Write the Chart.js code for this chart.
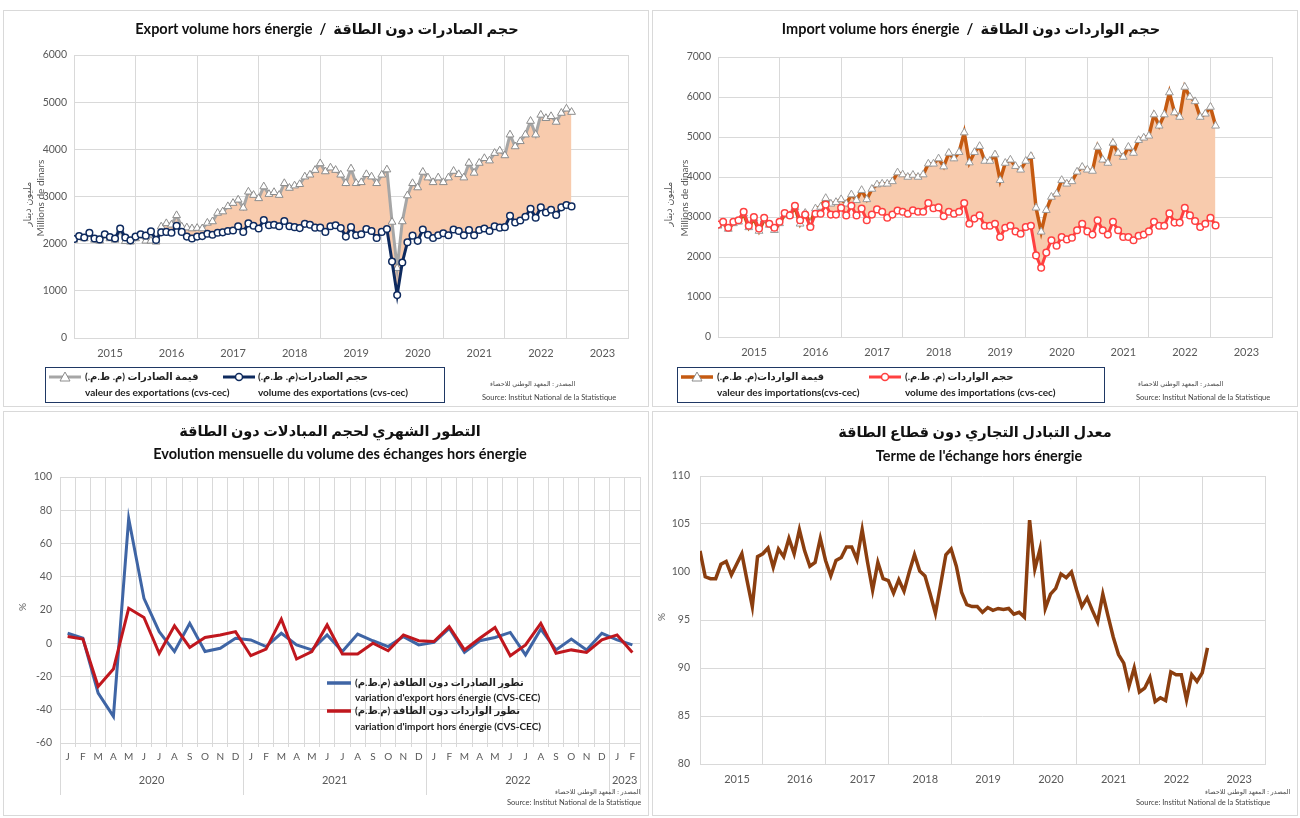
<!DOCTYPE html>
<html><head><meta charset="utf-8">
<script src="https://cdn.jsdelivr.net/npm/chart.js@4.4.1/dist/chart.umd.min.js"></script>
<style>
html,body{margin:0;padding:0;background:#fff;}
body{width:1300px;height:818px;position:relative;overflow:hidden;font-family:Lato,"DejaVu Sans",sans-serif;}
.panel{position:absolute;border:1px solid #d9d9d9;box-sizing:border-box;background:#fff;}
canvas{position:absolute;}
.t{position:absolute;white-space:nowrap;line-height:1;}
.title{font-weight:bold;font-size:14.5px;color:#111;transform:translateX(-50%);}
.ax{font-size:10px;color:#595959;transform-origin:center center;}
.lg{font-size:10px;font-weight:bold;color:#222;}
.src{font-size:7.5px;color:#444;}
.srca{font-size:6.5px;color:#444;}
.box{position:absolute;border:1px solid #1f3864;box-sizing:border-box;}
svg{position:absolute;}
</style></head><body>

<div class="panel" style="left:3px;top:10px;width:646px;height:397px"></div>
<div class="panel" style="left:652px;top:10px;width:646px;height:397px"></div>
<div class="panel" style="left:3px;top:411px;width:646px;height:405px"></div>
<div class="panel" style="left:652px;top:411px;width:646px;height:405px"></div>

<canvas id="c1" width="646" height="397" style="left:3px;top:10px"></canvas>
<canvas id="c2" width="646" height="397" style="left:652px;top:10px"></canvas>
<canvas id="c3" width="646" height="405" style="left:3px;top:411px"></canvas>
<canvas id="c4" width="646" height="405" style="left:652px;top:411px"></canvas>

<!-- Titles -->
<div class="t title" style="left:327px;top:22px">Export volume hors énergie&nbsp; / &nbsp;حجم الصادرات دون الطاقة</div>
<div class="t title" style="left:971px;top:22px">Import volume hors énergie&nbsp; / &nbsp;حجم الواردات دون الطاقة</div>
<div class="t title" style="left:330px;top:424px" dir="rtl">التطور الشهري لحجم المبادلات دون الطاقة</div>
<div class="t title" style="left:340px;top:447px">Evolution mensuelle du volume des échanges hors énergie</div>
<div class="t title" style="left:975px;top:425px" dir="rtl">معدل التبادل التجاري دون قطاع الطاقة</div>
<div class="t title" style="left:979px;top:449px">Terme de l'échange hors énergie</div>

<!-- Axis titles -->
<div class="t ax" style="left:40px;top:198px;transform:translate(-50%,-50%) rotate(-90deg)">Millions de dinars</div>
<div class="t ax" style="left:27px;top:204px;transform:translate(-50%,-50%) rotate(-90deg)" dir="rtl">مليون دينار</div>
<div class="t ax" style="left:684px;top:198px;transform:translate(-50%,-50%) rotate(-90deg)">Millions de dinars</div>
<div class="t ax" style="left:668px;top:204px;transform:translate(-50%,-50%) rotate(-90deg)" dir="rtl">مليون دينار</div>
<div class="t ax" style="left:22px;top:607px;transform:translate(-50%,-50%) rotate(-90deg)">%</div>
<div class="t ax" style="left:661px;top:617px;transform:translate(-50%,-50%) rotate(-90deg)">%</div>

<!-- Legend top-left -->
<div class="box" style="left:45px;top:367px;width:400px;height:36px"></div>
<svg style="left:48px;top:371px" width="34" height="12"><line x1="1" y1="6" x2="33" y2="6" stroke="#a6a6a6" stroke-width="3"/><polygon points="17,1 22,10 12,10" fill="#fff" stroke="#8c8c8c" stroke-width="1"/></svg>
<div class="t lg" style="left:85px;top:371px" dir="rtl">قيمة الصادرات (م. ط.م.)</div>
<div class="t lg" style="left:85px;top:387px">valeur des exportations (cvs-cec)</div>
<svg style="left:222px;top:371px" width="34" height="12"><line x1="1" y1="6" x2="33" y2="6" stroke="#0e2a5e" stroke-width="3"/><circle cx="17" cy="6" r="3.5" fill="#fff" stroke="#0e2a5e" stroke-width="1.5"/></svg>
<div class="t lg" style="left:258px;top:371px" dir="rtl">حجم الصادرات(م. ط.م.)</div>
<div class="t lg" style="left:258px;top:387px">volume des exportations (cvs-cec)</div>
<div class="t srca" style="left:490px;top:381px" dir="rtl">المصدر : المعهد الوطني للاحصاء</div>
<div class="t src" style="left:482px;top:394px">Source: Institut National de la Statistique</div>

<!-- Legend top-right -->
<div class="box" style="left:677px;top:367px;width:428px;height:36px"></div>
<svg style="left:680px;top:371px" width="34" height="12"><line x1="1" y1="6" x2="33" y2="6" stroke="#c55a11" stroke-width="3.5"/><polygon points="17,1 22,10 12,10" fill="#fff" stroke="#8c8c8c" stroke-width="1"/></svg>
<div class="t lg" style="left:717px;top:371px" dir="rtl">قيمة  الواردات(م. ط.م.)</div>
<div class="t lg" style="left:717px;top:387px">valeur des importations(cvs-cec)</div>
<svg style="left:868px;top:371px" width="34" height="12"><line x1="1" y1="6" x2="33" y2="6" stroke="#ff4040" stroke-width="3"/><circle cx="17" cy="6" r="3.5" fill="#fff" stroke="#ff4040" stroke-width="1.5"/></svg>
<div class="t lg" style="left:905px;top:371px" dir="rtl">حجم الواردات (م. ط.م.)</div>
<div class="t lg" style="left:905px;top:387px">volume des importations (cvs-cec)</div>
<div class="t srca" style="left:1138px;top:381px" dir="rtl">المصدر : المعهد الوطني للاحصاء</div>
<div class="t src" style="left:1136px;top:394px">Source: Institut National de la Statistique</div>

<!-- Legend bottom-left -->
<svg style="left:326px;top:677px" width="26" height="12"><line x1="1" y1="6" x2="25" y2="6" stroke="#3f65a5" stroke-width="3.5"/></svg>
<div class="t lg" style="left:355px;top:677px" dir="rtl">تطور الصادرات دون الطاقة (م.ط.م)</div>
<div class="t lg" style="left:355px;top:692px">variation d'export hors énergie (CVS-CEC)</div>
<svg style="left:326px;top:705px" width="26" height="12"><line x1="1" y1="6" x2="25" y2="6" stroke="#c0171e" stroke-width="3.5"/></svg>
<div class="t lg" style="left:355px;top:705px" dir="rtl">تطور الواردات دون الطاقة (م.ط.م)</div>
<div class="t lg" style="left:355px;top:721px">variation d'import hors énergie (CVS-CEC)</div>
<div class="t srca" style="left:555px;top:789px" dir="rtl">المصدر : المعهد الوطني للاحصاء</div>
<div class="t src" style="left:507px;top:799px">Source: Institut National de la Statistique</div>

<!-- Source bottom-right -->
<div class="t srca" style="left:1205px;top:789px" dir="rtl">المصدر : المعهد الوطني للاحصاء</div>
<div class="t src" style="left:1136px;top:799px">Source: Institut National de la Statistique</div>

<script>
// ---------------- DATA ----------------
const yearTicks = ['2015','2016','2017','2018','2019','2020','2021','2022','2023'];

// Monthly, Jan 2015 - Feb 2023 (millions of dinars)
const exportVolume = [
 2100,2160,2130,2230,2110,2090,2200,2140,2110,2320,2130,2070,
 2150,2200,2170,2260,2080,2240,2250,2230,2380,2250,2150,2110,
 2150,2160,2210,2190,2230,2240,2270,2280,2370,2250,2430,2380,
 2320,2500,2390,2400,2370,2480,2370,2350,2330,2420,2400,2340,
 2340,2250,2370,2390,2330,2150,2350,2180,2200,2310,2270,2120,
 2250,2310,1620,910,1600,2030,2170,2060,2300,2190,2120,2180,
 2220,2180,2300,2270,2180,2290,2180,2290,2320,2270,2370,2340,
 2350,2590,2450,2490,2570,2740,2550,2770,2660,2720,2610,2770,
 2820,2790];
const exportValue = [
 2080,2140,2110,2200,2080,2060,2170,2110,2080,2290,2050,2040,
 2110,2170,2060,2060,2040,2360,2430,2400,2600,2360,2340,2320,
 2330,2320,2440,2470,2650,2680,2790,2860,2930,2760,3100,3030,
 2960,3210,3050,3090,3030,3280,3180,3230,3260,3420,3460,3560,
 3700,3530,3610,3560,3460,3280,3590,3280,3300,3470,3420,3280,
 3460,3570,2460,1480,2470,3020,3280,3190,3520,3400,3300,3400,
 3300,3400,3540,3470,3400,3710,3500,3710,3810,3760,3920,3970,
 3870,4310,4060,4170,4310,4600,4310,4730,4660,4700,4580,4770,
 4860,4790];
const importVolume = [
 2810,2880,2730,2880,2920,3130,2780,3000,2710,2980,2830,2730,
 2880,3100,3040,3280,2920,3060,2750,3080,3080,3310,3060,3060,
 3230,3040,3280,3040,3210,2920,3060,3190,3130,2980,3060,3160,
 3130,3080,3170,3130,3130,3350,3220,3240,3020,3130,3080,3130,
 3350,2830,2960,3040,2780,2780,2830,2500,2730,2780,2640,2580,
 2750,2780,2040,1730,2110,2420,2280,2500,2440,2480,2670,2830,
 2640,2560,2920,2670,2560,2880,2670,2500,2500,2420,2530,2560,
 2640,2880,2780,2780,3090,2860,2860,3230,3040,2900,2750,2830,
 2980,2790];
const importValue = [
 2780,2840,2700,2840,2880,3080,2740,2960,2650,2930,2800,2670,
 2840,3060,3040,3240,2830,3100,2830,3210,3250,3470,3330,3370,
 3440,3330,3560,3420,3670,3440,3700,3810,3830,3830,3890,4110,
 4060,4000,4050,4000,4060,4330,4330,4460,4260,4600,4460,4620,
 5110,4360,4620,4770,4400,4400,4560,3920,4350,4430,4270,4180,
 4400,4520,3230,2630,3170,3500,3580,3920,3830,3890,4130,4250,
 4180,4150,4750,4430,4350,4850,4600,4500,4750,4600,4920,4980,
 5030,5560,5280,5560,6110,5610,5500,6250,6000,5890,5500,5580,
 5750,5280];
const termsOfTrade = [
 102.2,99.5,99.3,99.3,100.8,101.1,99.7,100.8,101.9,99.1,96.4,101.6,
 101.9,102.5,100.5,102.4,101.6,103.5,101.9,104.4,102.2,100.6,101.0,103.5,
 101.2,99.6,101.2,101.5,102.6,102.6,101.3,104.4,101.1,98.1,101.0,99.3,
 99.1,97.8,99.2,98.0,100.0,101.8,100.1,99.6,97.7,95.7,98.7,101.8,
 102.4,100.6,97.9,96.6,96.4,96.4,95.8,96.3,96.0,96.2,96.1,96.2,
 95.6,95.8,95.3,105.4,100.3,102.4,96.2,97.7,98.3,99.8,99.4,100.0,
 98.1,96.4,97.3,96.0,94.8,97.7,95.4,93.2,91.4,90.5,88.1,90.0,
 87.5,87.9,89.0,86.5,86.9,86.6,89.6,89.3,89.3,86.7,89.3,88.6,
 89.5,92.1];

// Monthly variation Jan 2020 - Feb 2023 (%)
const monthLabels = ['J','F','M','A','M','J','J','A','S','O','N','D',
 'J','F','M','A','M','J','J','A','S','O','N','D',
 'J','F','M','A','M','J','J','A','S','O','N','D','J','F'];
const yearGroups = ['2020','2021','2022','2023'];
const yearGroupSizes = [12,12,12,2];
const exportVariation = [6,3,-30,-44,75,27,7,-5,12,-5,-3,3,
 2,-2,6,-1,-4,5,-5,5.5,1.5,-2,4,-1,
 0.5,9,-5.5,1.5,3.5,6.5,-7,8.5,-4,2.5,-4,6,
 2,-1];
const importVariation = [4,2.5,-26,-15.5,21,15.5,-6,10.5,-2.5,3.5,5,7,
 -7.5,-3.5,14.5,-9.5,-5,11,-6.5,-6.5,0,-4.5,5,1.5,
 1,10,-4,3,9.5,-7.5,-1,12,-6,-4,-5.5,2,
 5,-5.5];

// ---------------- HELPERS ----------------
Chart.defaults.font.family = 'Lato, "DejaVu Sans", sans-serif';
Chart.defaults.animation = false;
Chart.defaults.plugins.legend.display = false;
Chart.defaults.plugins.tooltip.enabled = false;
const GRID = '#d9d9d9', TXT = '#595959';
const toXY = arr => arr.map((v,i)=>({x:i,y:v}));

function yearAxis(labelOffset){
  return {
    type:'linear', min:0, max:108,
    afterBuildTicks(s){ const t=[]; for(let v=0; v<=108; v+=12) t.push({value:v}); s.ticks=t; },
    ticks:{autoSkip:false, maxRotation:0, color:TXT, font:{size:11}, padding:9, labelOffset,
      callback:(v)=> yearTicks[Math.round(v/12)] || ''},
    grid:{color:GRID, drawTicks:false},
    border:{color:GRID},
    afterFit(s){ s.height = 30; }
  };
}
function valAxis(min,max,step,width,pad){
  return {
    min, max,
    afterBuildTicks(s){ const t=[]; for(let v=min; v<=max+1e-9; v+=step) t.push({value:v}); s.ticks=t; },
    ticks:{color:TXT, font:{size:10.5}, padding:pad, callback:(v)=> String(Math.round(v))},
    grid:{color:GRID, drawTicks:false},
    border:{display:false},
    afterFit(s){ s.width = width; }
  };
}

// ---------------- CHART 1: exports ----------------
new Chart(document.getElementById('c1'), {
  type:'line',
  data:{datasets:[
    {label:'volume des exportations (cvs-cec)', data:toXY(exportVolume), borderColor:'#0e2a5e', borderWidth:3,
     pointStyle:'circle', pointRadius:3.3, pointBorderWidth:1.5, pointBackgroundColor:'#fff', pointBorderColor:'#0e2a5e', tension:0, fill:false},
    {label:'valeur des exportations (cvs-cec)', data:toXY(exportValue), borderColor:'#a6a6a6', borderWidth:3,
     pointStyle:'triangle', pointRadius:4.5, pointBorderWidth:1, pointBackgroundColor:'#fff', pointBorderColor:'#8c8c8c', tension:0,
     fill:{target:0, above:'#f8cbad', below:'rgba(0,0,0,0)'}}
  ]},
  options:{responsive:false, devicePixelRatio:1,
    layout:{padding:{left:31,right:21,top:45,bottom:39}},
    plugins:{filler:{drawTime:'beforeDatasetsDraw'}},
    scales:{x:yearAxis(36), y:valAxis(0,6000,1000,40,7)}}
});

// ---------------- CHART 2: imports ----------------
new Chart(document.getElementById('c2'), {
  type:'line',
  data:{datasets:[
    {label:'volume des importations (cvs-cec)', data:toXY(importVolume), borderColor:'#ff4040', borderWidth:3,
     pointStyle:'circle', pointRadius:3.3, pointBorderWidth:1.5, pointBackgroundColor:'#fff', pointBorderColor:'#ff4040', tension:0, fill:false},
    {label:'valeur des importations(cvs-cec)', data:toXY(importValue), borderColor:'#c55a11', borderWidth:3.5,
     pointStyle:'triangle', pointRadius:4.5, pointBorderWidth:1, pointBackgroundColor:'#fff', pointBorderColor:'#9a9a9a', tension:0,
     fill:{target:0, above:'#f8cbad', below:'rgba(0,0,0,0)'}}
  ]},
  options:{responsive:false, devicePixelRatio:1,
    layout:{padding:{left:26,right:26,top:47,bottom:40}},
    plugins:{filler:{drawTime:'beforeDatasetsDraw'}},
    scales:{x:yearAxis(36), y:valAxis(0,7000,1000,40,7)}}
});

// ---------------- CHART 3: monthly variation ----------------
const yearRow = {
  id:'yearRow',
  afterDraw(chart){
    const xs = chart.scales.x, ctx = chart.ctx, ca = chart.chartArea;
    const half = (xs.getPixelForValue(1) - xs.getPixelForValue(0))/2;
    ctx.save();
    ctx.strokeStyle = GRID; ctx.lineWidth = 1;
    ctx.fillStyle = TXT; ctx.font = '11px Lato, "DejaVu Sans", sans-serif';
    ctx.textAlign = 'center'; ctx.textBaseline = 'middle';
    let start = 0;
    const line = x => { ctx.beginPath(); ctx.moveTo(Math.round(x)+0.5, ca.bottom); ctx.lineTo(Math.round(x)+0.5, ca.bottom+52); ctx.stroke(); };
    line(xs.getPixelForValue(0)-half);
    yearGroups.forEach((g,i)=>{
      const n = yearGroupSizes[i];
      const x0 = xs.getPixelForValue(start) - half;
      const x1 = xs.getPixelForValue(start+n-1) + half;
      line(x1);
      ctx.fillText(g, (x0+x1)/2, ca.bottom+37);
      start += n;
    });
    ctx.restore();
  }
};
new Chart(document.getElementById('c3'), {
  type:'line',
  data:{labels:monthLabels, datasets:[
    {label:"variation d'export hors énergie (CVS-CEC)", data:exportVariation, borderColor:'#3f65a5', borderWidth:3, pointRadius:0, tension:0, order:2},
    {label:"variation d'import hors énergie (CVS-CEC)", data:importVariation, borderColor:'#c0171e', borderWidth:3, pointRadius:0, tension:0, order:1}
  ]},
  options:{responsive:false, devicePixelRatio:1,
    layout:{padding:{left:22,right:9,top:66,bottom:43}},
    scales:{
      x:{type:'category', offset:true,
         ticks:{autoSkip:false, maxRotation:0, color:TXT, font:{size:10}, padding:4},
         grid:{color:GRID, offset:true, drawTicks:true, tickLength:4, tickColor:GRID},
         border:{color:GRID},
         afterFit(s){ s.height = 30; }},
      y:valAxis(-60,100,20,35,8)
    }},
  plugins:[yearRow]
});

// ---------------- CHART 4: terms of trade ----------------
new Chart(document.getElementById('c4'), {
  type:'line',
  data:{datasets:[
    {label:"Terme de l'échange hors énergie", data:toXY(termsOfTrade), borderColor:'#8b3e0f', borderWidth:3.5, pointRadius:0, tension:0}
  ]},
  options:{responsive:false, devicePixelRatio:1,
    layout:{padding:{left:12,right:33,top:65,bottom:22}},
    scales:{x:yearAxis(37), y:valAxis(80,110,5,36,10)}}
});
</script>
</body></html>
